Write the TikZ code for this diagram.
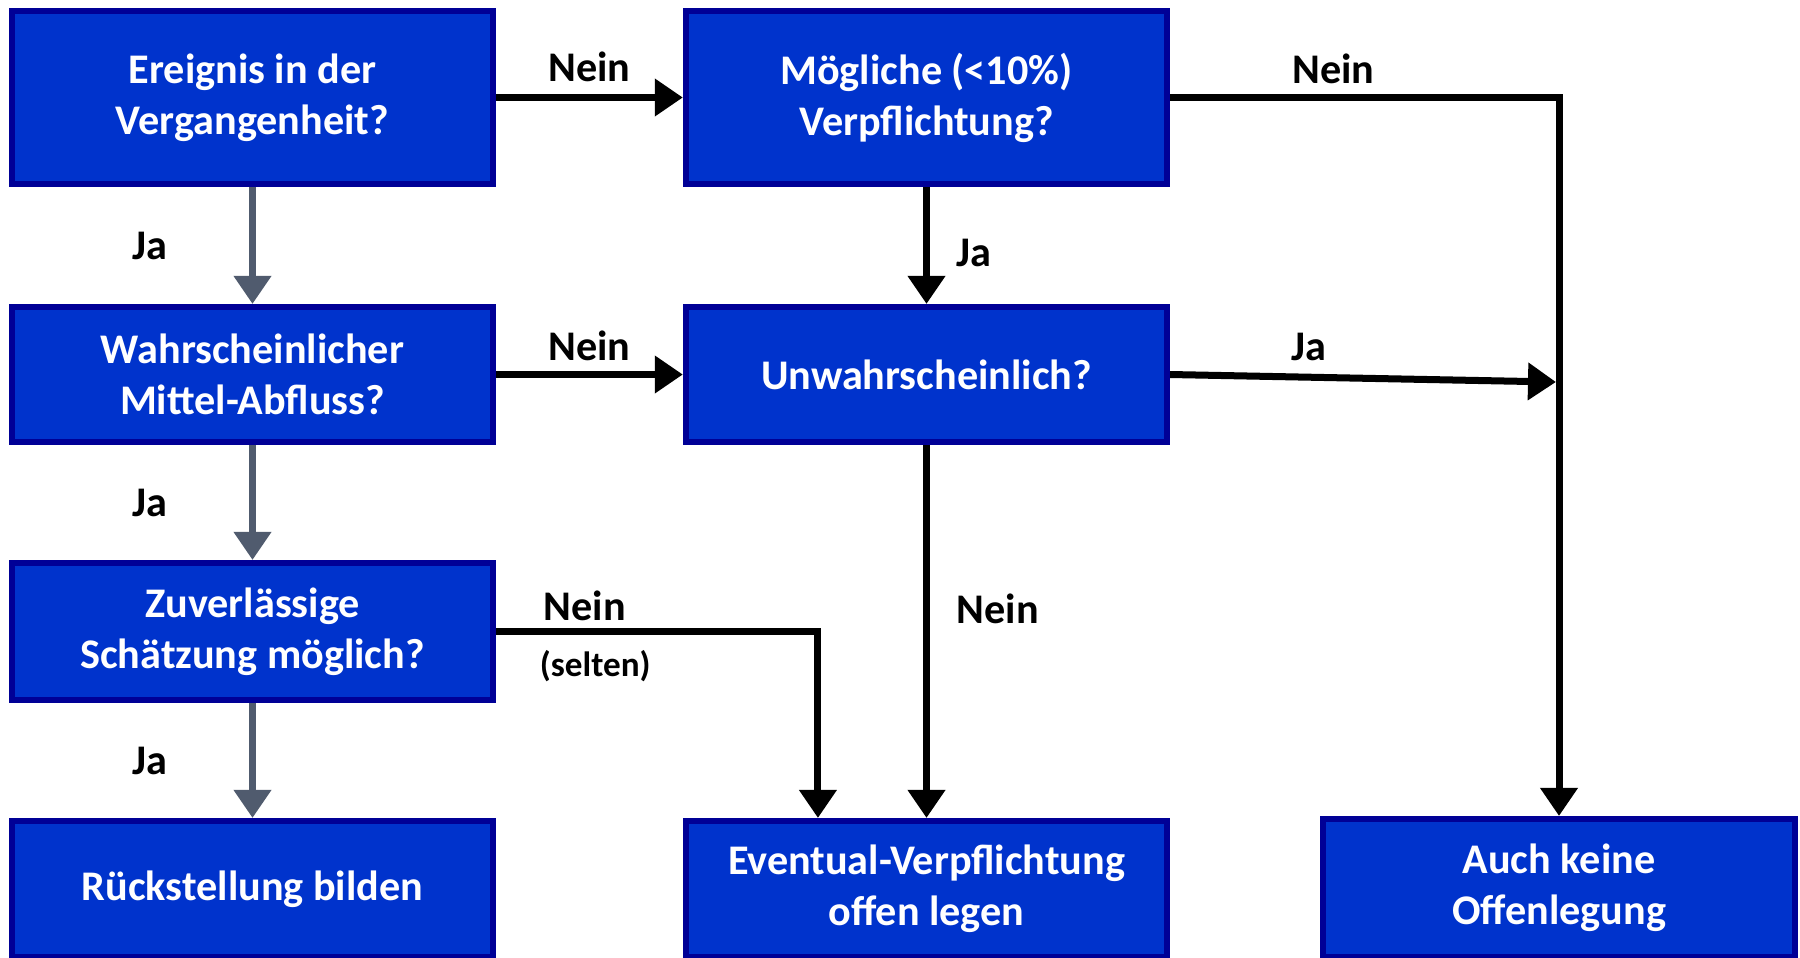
\documentclass[tikz,border=0pt]{standalone}
\usepackage{fontspec}
\setmainfont{Carlito}
\usetikzlibrary{arrows.meta}
\definecolor{boxblue}{RGB}{0,51,204}
\definecolor{boxedge}{RGB}{0,0,150}
\definecolor{jagray}{RGB}{80,91,110}

\begin{document}
\begin{tikzpicture}[x=0.01cm, y=-0.01cm,
	every node/.style={font=\fontsize{12}{14.5}\selectfont\bfseries},
	box/.style={draw=boxedge, fill=boxblue, line width=0.06cm, text=white, align=center,
		minimum width=4.81cm, inner sep=0pt},
	lbl/.style={text=black, font=\fontsize{12}{14}\selectfont\bfseries},
	small/.style={text=black, font=\fontsize{10}{12}\selectfont\bfseries},
	flow/.style={line width=0.07cm, -{Triangle[width=0.36cm,length=0.28cm]}},
	yes/.style={flow, draw=jagray},
	no/.style={flow, draw=black}]

\useasboundingbox[fill=white] (0,0) rectangle (1800,957);

% Boxes
\node[box, minimum height=1.73cm] (ereignis) at (252.5,97.5) {Ereignis in der\\Vergangenheit?};
\node[box, minimum height=1.73cm] (moeglich) at (926.5,97.5) {Mögliche (<10\%)\\Verpflichtung?};
\node[box, minimum height=1.35cm] (wahrsch) at (252.5,374.5) {Wahrscheinlicher\\Mittel-Abfluss?};
\node[box, minimum height=1.35cm] (unwahr) at (926.5,374.5) {Unwahrscheinlich?};
\node[box, minimum height=1.37cm] (zuverl) at (252.5,631.5) {Zuverlässige\\Schätzung möglich?};
\node[box, minimum height=1.36cm] (rueck) at (252.5,889) {Rückstellung bilden};
\node[box, minimum height=1.36cm] (eventual) at (926.5,889) {Eventual-Verpflichtung\\offen legen};
\node[box, minimum height=1.38cm, minimum width=4.72cm] (keine) at (1559,888) {Auch keine\\Offenlegung};

\coordinate (merge) at (1556,382);

% Left column (Ja)
\draw[yes] (ereignis) -- node[lbl, left=0.7cm]{Ja} (wahrsch);
\draw[yes] (wahrsch) -- node[lbl, left=0.7cm]{Ja} (zuverl);
\draw[yes] (zuverl) -- node[lbl, left=0.7cm]{Ja} (rueck);

% Nein / Ja branches
\draw[no] (ereignis) -- node[lbl, above=0.005cm]{Nein} (moeglich);
\draw[no] (moeglich) -- node[lbl, right=0.15cm, pos=0.56]{Ja} (unwahr);
\draw[no] (moeglich.east) -| node[lbl, above=-0.02cm, pos=0.21]{Nein} (keine.north);
\draw[no] (wahrsch) -- node[lbl, above=-0.02cm]{Nein} (unwahr);
\draw[no] (unwahr.east) -- node[lbl, above=0.01cm, pos=0.36]{Ja} (merge);
\draw[no] (zuverl.east) -| node[lbl, above=-0.05cm, pos=0.138]{Nein}
	node[small, below=0.04cm, pos=0.154]{(selten)} ([xshift=-1.085cm]eventual.north);
\draw[no] (unwahr) -- node[lbl, right=0.15cm, pos=0.44]{Nein} (eventual);

\end{tikzpicture}
\end{document}
